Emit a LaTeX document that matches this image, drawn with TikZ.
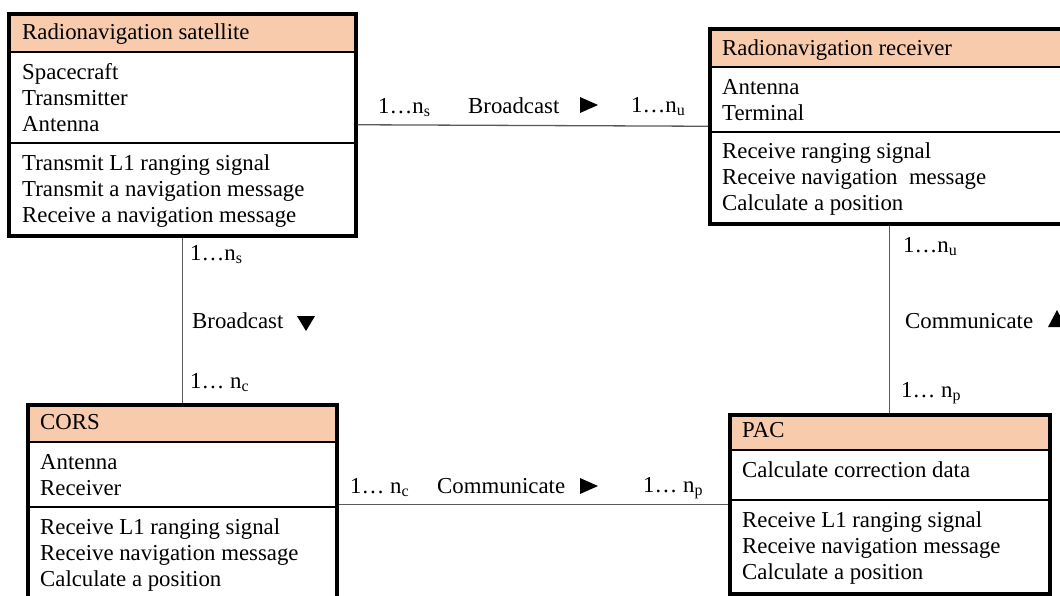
\documentclass[tikz,border=0pt]{standalone}
\usepackage{fontspec}
\setmainfont{Liberation Serif}
\usetikzlibrary{calc}
\definecolor{peach}{HTML}{F8CBAD}
\definecolor{connc}{HTML}{5A5A5A}
\tikzset{
  box/.style={draw=black, line width=3.5pt, inner sep=0pt, anchor=north west},
  txt/.style={inner sep=0pt, anchor=base west, align=left, font=\fontsize{22.8}{26}\selectfont},
  lbl/.style={inner sep=0pt, anchor=base west, font=\fontsize{22.8}{26}\selectfont},
  divider/.style={line width=2pt},
  link/.style={draw=connc, line width=1.3pt},
  tri/.style={fill=black}
}
\begin{document}
\begin{tikzpicture}[x=1pt,y=-1pt]
\useasboundingbox (0,0) rectangle (1060,595);

% header fills
\fill[peach] (7,12) rectangle (354,52);
\fill[peach] (708,27) rectangle (1075,67);
\fill[peach] (26,403) rectangle (335,442);
\fill[peach] (728,413) rectangle (1048,450);

% boxes
\node[box, minimum width=347pt, minimum height=222pt] (sat) at (7,12) {};
\node[box, minimum width=362pt, minimum height=195pt] (rec) at (708,27) {};
\node[box, minimum width=309pt, minimum height=196pt] (cors) at (26,403) {};
\node[box, minimum width=320pt, minimum height=179pt] (pac) at (728,413) {};

% dividers
\draw[divider] (sat.west |- 0,52) -- (sat.east |- 0,52);
\draw[divider] (sat.west |- 0,143) -- (sat.east |- 0,143);
\draw[divider] (rec.west |- 0,67) -- (rec.east |- 0,67);
\draw[divider] (rec.west |- 0,132) -- (rec.east |- 0,132);
\draw[divider] (cors.west |- 0,442) -- (cors.east |- 0,442);
\draw[divider] (cors.west |- 0,507) -- (cors.east |- 0,507);
\draw[divider] (pac.west |- 0,450) -- (pac.east |- 0,450);
\draw[divider] (pac.west |- 0,500) -- (pac.east |- 0,500);

% texts (base anchor = baseline of the last line)
\node[txt] (satH) at (22,39) {Radionavigation satellite};
\node[txt] (satA) at (22,131) {Spacecraft\\Transmitter\\Antenna};
\node[txt] (satM) at (22,222) {Transmit L1 ranging signal\\Transmit a navigation message\\Receive a navigation message};

\node[txt] (recH) at (722,55) {Radionavigation receiver};
\node[txt] (recA) at (722,120) {Antenna\\Terminal};
\node[txt] (recM) at (722,210) {Receive ranging signal\\Receive navigation\ \ message\\Calculate a position};

\node[txt] (corsH) at (40,429) {CORS};
\node[txt] (corsA) at (40,495) {Antenna\\Receiver};
\node[txt] (corsM) at (40,586) {Receive L1 ranging signal\\Receive navigation message\\Calculate a position};

\node[txt] (pacH) at (742,437) {PAC};
\node[txt] (pacA) at (742,477) {Calculate correction data};
\node[txt] (pacM) at (742,579) {Receive L1 ranging signal\\Receive navigation message\\Calculate a position};

% connectors
\draw[link] (sat.east) -- (rec.west);
\draw[link] (sat.south) -- (cors.north);
\draw[link] (rec.south -| pac.north) -- (pac.north);
\draw[link] (cors.east |- pac.west) -- (pac.west);

% labels top
\node[lbl] (l1) at (378,113) {1…n\textsubscript{s}};
\node[lbl] (l2) at (468,113) {Broadcast};
\fill[tri] (580,97) -- (598,105) -- (580,113) -- cycle;
\node[lbl] (l3) at (631,112) {1…n\textsubscript{u}};

% labels left
\node[lbl] (l4) at (190,260) {1…n\textsubscript{s}};
\node[lbl] (l5) at (192,328) {Broadcast};
\fill[tri] (297,316) -- (315,316) -- (306,331) -- cycle;
\node[lbl] (l6) at (190,388) {1… n\textsubscript{c}};

% labels right
\node[lbl] (l7) at (903,252) {1…n\textsubscript{u}};
\node[lbl] (l8) at (905,328) {Communicate};
\fill[tri] (1048,327) -- (1066,327) -- (1057,310) -- cycle;
\node[lbl] (l9) at (901,397) {1… n\textsubscript{p}};

% labels bottom
\node[lbl] (l10) at (350,493) {1… n\textsubscript{c}};
\node[lbl] (l11) at (437,493) {Communicate};
\fill[tri] (580,478) -- (598,486) -- (580,494) -- cycle;
\node[lbl] (l12) at (643,492) {1… n\textsubscript{p}};
\end{tikzpicture}
\end{document}
